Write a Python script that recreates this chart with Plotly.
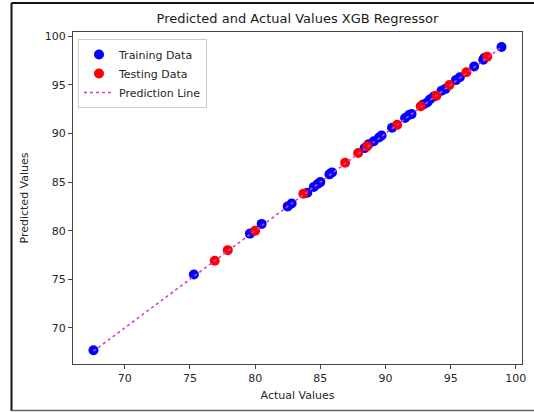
import plotly.graph_objects as go

# Training data (actual, predicted)
train_actual = [67.6, 75.3, 79.6, 80.5, 82.5, 82.8, 84.0, 84.5, 84.8, 85.0, 85.7, 85.9,
                88.4, 88.7, 89.1, 89.5, 89.7, 90.5, 91.5, 91.8, 92.0, 92.9, 93.2,
                93.4, 93.7, 94.3, 94.6, 95.4, 95.7, 96.8, 97.5, 97.6, 98.9]
train_pred = [67.7, 75.5, 79.7, 80.7, 82.5, 82.8, 83.9, 84.5, 84.8, 85.0, 85.8, 86.0,
              88.5, 88.9, 89.2, 89.6, 89.8, 90.6, 91.6, 91.9, 92.0, 93.0, 93.2,
              93.5, 93.8, 94.4, 94.6, 95.5, 95.8, 96.9, 97.6, 97.8, 98.9]

# Testing data (actual, predicted)
test_actual = [76.9, 77.9, 80.0, 83.7, 86.9, 87.9, 88.6, 90.9, 92.7, 93.9, 94.9, 96.2, 97.8]
test_pred = [76.9, 78.0, 80.0, 83.8, 87.0, 88.0, 88.7, 90.9, 92.8, 93.9, 95.0, 96.3, 97.9]

x_ticks = [70, 75, 80, 85, 90, 95, 100]
y_ticks = [70, 75, 80, 85, 90, 95, 100]

all_actual = train_actual + test_actual
line_x = [min(all_actual), max(all_actual)]

font = "DejaVu Sans, Liberation Sans, sans-serif"

fig = go.Figure()
fig.add_trace(go.Scatter(x=train_actual, y=train_pred, mode="markers", name="Training Data",
                         marker=dict(color="#0000FF", size=10, line=dict(width=0))))
fig.add_trace(go.Scatter(x=test_actual, y=test_pred, mode="markers", name="Testing Data",
                         marker=dict(color="#FF0000", size=10, line=dict(width=0))))
fig.add_trace(go.Scatter(x=line_x, y=line_x, mode="lines", name="Prediction Line",
                         line=dict(color="#d63fd6", width=1.6, dash="dot")))

W, H = 534, 412
# plot area in pixels
PX0, PX1, PY0, PY1 = 73, 522, 32, 364

def fx(px):
    return px / W

def fy(py):
    return 1 - py / H

shapes = [
    dict(type="line", xref="paper", yref="paper",
         x0=fx(11.5), x1=1.0, y0=fy(3), y1=fy(3),
         line=dict(color="#111111", width=2)),
    dict(type="line", xref="paper", yref="paper",
         x0=fx(11.5), x1=fx(11.5), y0=fy(3), y1=fy(411),
         line=dict(color="#111111", width=2)),
    dict(type="line", xref="paper", yref="paper",
         x0=fx(11.5), x1=1.0, y0=fy(410.5), y1=fy(410.5),
         line=dict(color="#666666", width=1.5)),
]

fig.update_layout(
    width=W, height=H,
    margin=dict(l=0, r=0, t=0, b=0, autoexpand=False),
    paper_bgcolor="white", plot_bgcolor="white",
    font=dict(family=font, size=11, color="#262626"),
    title=dict(text="Predicted and Actual Values XGB Regressor",
               x=fx((PX0 + PX1) / 2), xanchor="center", xref="paper",
               y=fy(18), yanchor="middle", yref="paper",
               font=dict(size=13, color="#1a1a1a")),
    xaxis=dict(domain=[fx(PX0), fx(PX1)], range=[66.03, 100.47], tickvals=x_ticks,
               showgrid=False, zeroline=False, automargin=False,
               showline=True, mirror=True, linecolor="#444444", linewidth=1,
               ticks="outside", ticklen=4, tickcolor="#444444",
               title=dict(text="Actual Values", standoff=7, font=dict(size=11))),
    yaxis=dict(domain=[fy(PY1), fy(PY0)], range=[66.28, 100.45], tickvals=y_ticks,
               showgrid=False, zeroline=False, automargin=False,
               showline=True, mirror=True, linecolor="#444444", linewidth=1,
               ticks="outside", ticklen=4, tickcolor="#444444",
               title=dict(text="Predicted Values", standoff=13, font=dict(size=11))),
    legend=dict(x=fx(78), y=fy(39), xanchor="left", yanchor="top",
                bgcolor="white", bordercolor="#cccccc", borderwidth=1,
                font=dict(size=11, color="#262626"), itemwidth=30),
    shapes=shapes,
    showlegend=True,
)

fig.write_html("out.html",
               config={"displayModeBar": False, "responsive": False},
               post_script=("document.body.style.margin='0';"
                            "document.body.style.overflow='hidden';"
                            "document.documentElement.style.overflow='hidden';"))
